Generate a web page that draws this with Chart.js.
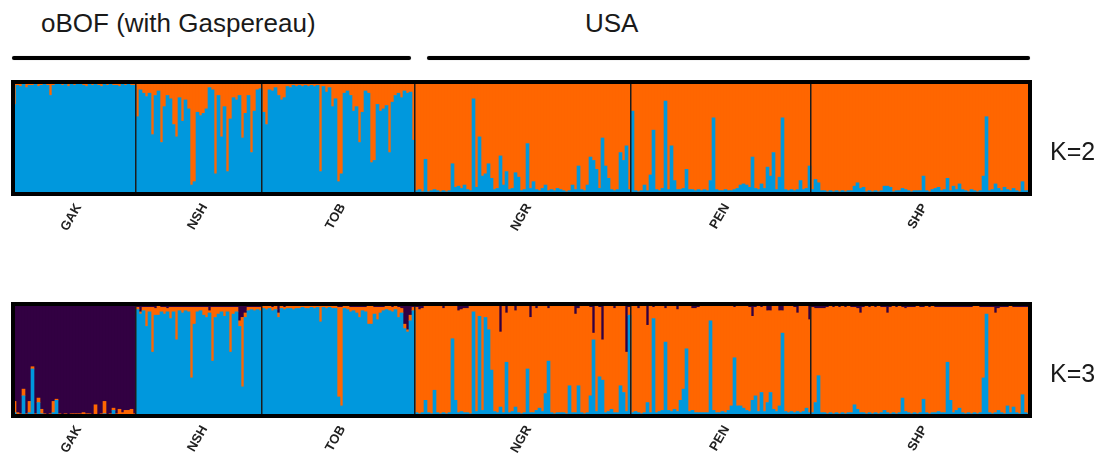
<!DOCTYPE html>
<html lang="en">
<head>
<meta charset="utf-8">
<title>STRUCTURE – oBOF / USA, K=2 and K=3</title>
<script src="https://cdn.jsdelivr.net/npm/chart.js@4/dist/chart.umd.min.js"></script>
<style>
  html, body { margin: 0; padding: 0; background: #fff; width: 1106px; height: 458px; overflow: hidden; }
  body { font-family: 'Liberation Sans', Arial, Helvetica, sans-serif; }
  .wrap  { position: relative; width: 1106px; height: 458px; }
  .lbl   { position: absolute; color: #1a1a1a; line-height: 1; white-space: nowrap; }
  .region { font-size: 26px; top: 9.5px; }
  .kval  { font-size: 25px; left: 1050px; }
  .group-line { position: absolute; top: 56px; height: 4px; background: #000; border-radius: 2px;
                box-shadow: 0 0 1px rgba(0,0,0,0.4); }
  canvas { position: absolute; left: 0; }
</style>
</head>
<body>
<div class="wrap">
  <div class="lbl region" style="left:41px">oBOF (with Gaspereau)</div>
  <div class="lbl region" style="left:585px">USA</div>
  <div class="group-line" style="left:12px; width:399px"></div>
  <div class="group-line" style="left:427px; width:603px"></div>

  <canvas id="k2" width="1106" height="240" style="top:0"></canvas>
  <canvas id="k3" width="1106" height="240" style="top:222px"></canvas>

  <div class="lbl kval" style="top:138.8px">K=2</div>
  <div class="lbl kval" style="top:360.5px">K=3</div>
</div>

<script>
'use strict';

/* ═══════════════════════════════════════════════
   DATA — membership (%) per individual
═══════════════════════════════════════════════ */

const POPS = ['GAK', 'NSH', 'TOB', 'NGR', 'PEN', 'SHP'];

/* K=2 : blue cluster share (orange = remainder) */
const K2_BLUE_GAK = [80,97,96,98,95,97,97,98,96,97, 98,97,88,97,98,98,97,98,96,98, 97,98,98,97,96,98,97,98,97,96, 98,97,98,97,97,96,98,97,98,97, 97];
const K2_BLUE_NSH = [69,93,90,87,90,53,88,92,46,78, 88,85,62,51,86,65,84,76,8,11, 73,70,72,76,95,93,18,88,51,78, 20,67,86,84,88,50,72,88,37,74, 93,94];
const K2_BLUE_TOB = [73,62,93,92,95,88,84,86,96,95, 97,96,97,96,97,96,97,96,97,20, 96,91,95,78,85,11,18,90,92,88, 74,78,46,73,92,90,28,30,80,74, 76,79,37,82,88,90,86,92,90,91, 48];
const K2_BLUE_NGR = [3,4,2,31,2,3,4,3,2,3, 2,3,27,6,7,5,8,4,3,85, 6,51,16,18,27,14,4,5,34,8, 20,4,5,19,15,3,4,45,5,11, 4,3,5,8,3,4,3,5,4,3, 2,3,8,4,25,4,3,8,33,30, 22,5,50,25,14,4,3,4,37,30, 43,4];
const K2_BLUE_PEN = [74,3,2,3,8,3,17,57,4,3, 5,83,4,43,12,4,4,5,22,4, 4,3,4,3,4,3,12,68,4,3, 3,4,3,3,4,5,8,9,8,6, 33,5,4,9,5,24,16,37,4,15, 68,4,3,4,3,4,12,4,5,25];
const K2_BLUE_SHP = [4,13,10,3,3,2,3,2,3,2, 3,2,3,3,7,10,5,6,2,3, 2,3,2,3,7,7,6,2,3,3, 5,4,3,2,3,3,3,16,3,2, 4,5,6,3,4,14,3,7,4,9, 4,3,2,4,3,2,3,16,69,3, 4,9,5,3,6,4,3,5,3,2, 11,3,3];

/* K=3 : blue and orange shares (purple = remainder) */
const K3_BLUE_GAK   = [3,1,1,18,1,3,42,1,12,2, 1,0,1,3,14,1,0,1,0,1, 0,1,0,1,0,1,0,1,0,1, 2,0,1,5,0,1,1,0,1,1, 0];
const K3_ORANGE_GAK = [10,2,1,6,1,10,2,1,4,4, 1,1,1,10,1,1,1,1,1,1, 2,1,2,2,2,1,1,9,1,1, 11,1,1,2,2,5,2,5,4,5, 2];
const K3_BLUE_NSH   = [95,91,94,80,93,57,90,90,93,91, 93,87,93,68,94,92,94,93,34,82, 93,94,90,88,92,49,88,91,93,89, 93,57,91,93,80,26,88,94,95,94, 95,94];
const K3_ORANGE_NSH = [2,2,3,17,4,40,6,8,4,6, 3,10,4,29,3,5,3,4,63,15, 4,3,7,9,2,48,9,6,4,8, 4,40,6,4,5,62,4,3,2,3, 2,3];
const K3_BLUE_TOB   = [96,95,96,94,95,88,96,95,96,96, 95,96,96,97,96,96,97,96,97,84, 97,96,97,96,96,17,9,96,95,93, 94,92,88,94,93,82,82,91,86,92, 94,95,94,93,95,88,92,78,75,85, 94];
const K3_ORANGE_TOB = [2,3,2,3,3,4,2,2,2,2, 3,2,2,1,2,2,1,2,1,14, 1,2,1,2,2,80,88,2,3,4, 3,5,9,3,4,16,16,6,11,5, 3,3,4,4,3,9,4,4,2,5, 3];
const K3_BLUE_NGR   = [3,2,3,14,3,2,23,3,2,3, 2,3,69,14,3,4,3,3,2,93, 4,89,5,88,77,41,4,3,8,3, 48,3,4,8,3,2,3,42,3,3, 5,7,4,20,49,3,2,3,3,3, 2,27,3,3,27,3,2,3,18,68, 4,35,32,3,4,6,3,3,27,21, 4,90];
const K3_ORANGE_NGR = [94,93,93,84,95,96,75,95,96,93, 96,95,29,84,91,91,93,93,96,5, 94,9,93,10,21,57,94,95,67,95, 44,95,94,86,95,96,95,56,85,95, 91,91,94,78,47,95,96,95,95,95, 96,71,95,88,69,95,96,95,79,6, 94,62,36,95,94,92,93,95,71,77, 53,7];
const K3_BLUE_PEN   = [3,4,3,2,3,12,3,87,3,4, 5,66,5,4,6,4,14,24,60,4, 5,3,3,3,3,3,85,5,3,3, 4,3,5,9,52,9,9,7,5,4, 14,18,4,21,4,12,21,6,4,9, 74,4,3,4,3,4,3,4,7,3];
const K3_ORANGE_PEN = [95,94,93,96,95,69,95,10,95,94, 93,30,93,94,92,91,84,74,38,94, 91,93,94,95,95,95,13,93,95,95, 94,95,93,89,45,89,89,91,93,93, 75,79,94,76,94,82,73,92,94,85, 20,94,95,94,94,88,95,94,91,83];
const K3_BLUE_SHP   = [3,12,36,3,3,2,3,2,3,2, 3,2,3,3,10,6,3,3,2,3, 2,3,2,3,5,3,2,3,2,3, 16,4,3,2,3,2,3,15,3,2, 3,3,4,3,3,48,14,3,5,7, 3,2,3,2,3,2,3,34,91,3, 2,3,5,3,2,9,3,8,3,2, 19,3,2];
const K3_ORANGE_SHP = [94,84,60,93,93,95,95,95,95,95, 95,95,95,94,87,90,89,94,96,94, 96,94,96,94,92,89,95,95,95,95, 81,92,94,95,94,96,94,82,95,95, 95,94,93,94,94,49,83,94,92,90, 94,95,94,95,95,96,94,63,6,94, 95,89,91,94,95,88,95,89,94,95, 78,94,95];

/* ═══════════════════════════════════════════════
   BUILD
═══════════════════════════════════════════════ */

const COLORS = { blue: '#0098DD', orange: '#FF6600', purple: '#320042' };

const K2_BLUE   = [K2_BLUE_GAK, K2_BLUE_NSH, K2_BLUE_TOB, K2_BLUE_NGR, K2_BLUE_PEN, K2_BLUE_SHP].flat();
const K3_BLUE   = [K3_BLUE_GAK, K3_BLUE_NSH, K3_BLUE_TOB, K3_BLUE_NGR, K3_BLUE_PEN, K3_BLUE_SHP].flat();
const K3_ORANGE = [K3_ORANGE_GAK, K3_ORANGE_NSH, K3_ORANGE_TOB, K3_ORANGE_NGR, K3_ORANGE_PEN, K3_ORANGE_SHP].flat();
const POP_SIZES = [K2_BLUE_GAK, K2_BLUE_NSH, K2_BLUE_TOB, K2_BLUE_NGR, K2_BLUE_PEN, K2_BLUE_SHP].map(a => a.length);

/* individual labels, population name shown once at middle of each block */
const LABELS = [];
const TICK_LABELS = [];
const BOUNDARIES = [];
POPS.forEach((pop, p) => {
  if (p > 0) BOUNDARIES.push(LABELS.length);
  const n = POP_SIZES[p];
  for (let i = 0; i < n; i++) {
    LABELS.push(pop + '-' + (i + 1));
    TICK_LABELS.push(i === Math.floor(n / 2) ? pop : '');
  }
});

/* thick black frame round the plot area */
const framePlugin = {
  id: 'frame',
  afterDraw(chart) {
    const { ctx, chartArea: a } = chart;
    ctx.save();
    ctx.strokeStyle = '#000';
    ctx.lineWidth = 4;
    ctx.strokeRect(a.left, a.top, a.right - a.left, a.bottom - a.top);
    ctx.restore();
  }
};

function buildPanel(canvasId, datasets) {
  return new Chart(document.getElementById(canvasId), {
    type: 'bar',
    data: { labels: LABELS, datasets },
    options: {
      responsive: false,
      animation: false,
      layout: { padding: { left: 13, right: 76, top: 82, bottom: 0 } },
      datasets: { bar: { barPercentage: 1, categoryPercentage: 1, borderWidth: 0 } },
      plugins: { legend: { display: false }, tooltip: { enabled: false } },
      scales: {
        x: {
          stacked: true,
          border: { display: false },
          grid: {
            z: 1,                       // separators drawn over the bars
            offset: true,
            drawTicks: false,
            lineWidth: 1.5,
            color: ctx => BOUNDARIES.includes(ctx.index) ? '#1c1c1c' : 'rgba(0,0,0,0)'
          },
          ticks: {
            autoSkip: false,
            minRotation: 60,
            maxRotation: 60,
            padding: 7,
            labelOffset: 4,
            color: '#222',
            font: { family: "'Liberation Sans', Arial, sans-serif", size: 13, weight: 'bold' },
            callback: (v, i) => TICK_LABELS[i]
          },
          afterFit: s => { s.height = 46; }
        },
        y: { stacked: true, display: false, min: 0, max: 100 }
      }
    },
    plugins: [framePlugin]
  });
}

buildPanel('k2', [
  { label: 'Cluster 1', data: K2_BLUE, backgroundColor: COLORS.blue },
  { label: 'Cluster 2', data: K2_BLUE.map(b => 100 - b), backgroundColor: COLORS.orange }
]);

buildPanel('k3', [
  { label: 'Cluster 1', data: K3_BLUE, backgroundColor: COLORS.blue },
  { label: 'Cluster 2', data: K3_ORANGE, backgroundColor: COLORS.orange },
  { label: 'Cluster 3', data: K3_BLUE.map((b, i) => 100 - b - K3_ORANGE[i]), backgroundColor: COLORS.purple }
]);
</script>
</body>
</html>
